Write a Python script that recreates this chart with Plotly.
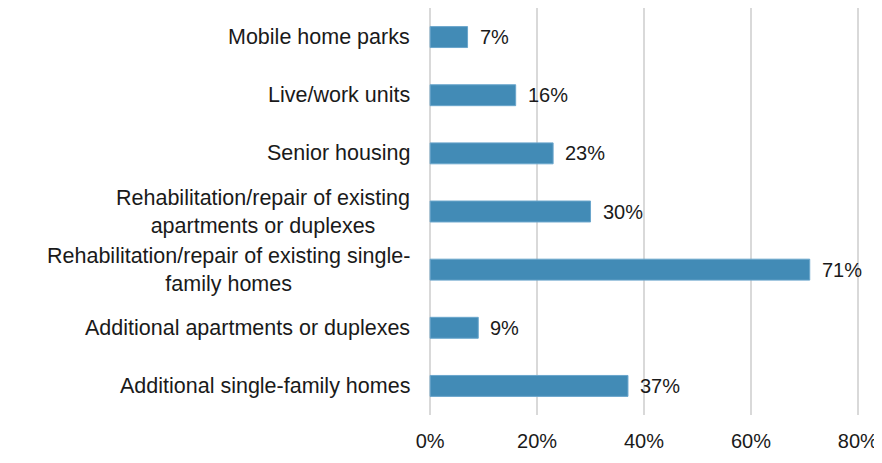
import plotly.graph_objects as go

categories = [
    "Additional single-family homes",
    "Additional apartments or duplexes",
    "Rehabilitation/repair of existing single-<br>family homes",
    "Rehabilitation/repair of existing<br>apartments or duplexes",
    "Senior housing",
    "Live/work units",
    "Mobile home parks",
]
values = [37, 9, 71, 30, 23, 16, 7]
x_ticks = [0, 20, 40, 60, 80]
x_tick_labels = ["0%", "20%", "40%", "60%", "80%"]

FONT = "Liberation Sans, Arial, sans-serif"
FS = 20
FS_CAT = 21.5
fig = go.Figure()
fig.add_trace(go.Bar(
    y=list(range(len(categories))),
    x=values,
    orientation="h",
    marker=dict(color="#428bb6", line=dict(color="#6aa6cc", width=1)),
    width=0.36,
    hoverinfo="skip",
))

for i, (c, v) in enumerate(zip(categories, values)):
    fig.add_annotation(x=v, y=i, xref="x", yref="y", text=f"{v}%",
                       showarrow=False, xanchor="left", xshift=10,
                       font=dict(size=FS, color="#1a1a1a", family=FONT))
    fig.add_annotation(x=0, y=i, xref="paper", yref="y", text=c,
                       showarrow=False, xanchor="right", xshift=-16,
                       align="center",
                       font=dict(size=FS_CAT, color="#1a1a1a", family=FONT))

# page body has an 8px margin; figure sized to fit the 882x463 window
fig.update_layout(
    width=874, height=455,
    margin=dict(l=420, r=22, t=0, b=48),
    plot_bgcolor="white", paper_bgcolor="white",
    showlegend=False,
    font=dict(family=FONT, size=FS, color="#1a1a1a"),
    xaxis=dict(range=[-0.4, 80.4], tickvals=x_ticks, ticktext=x_tick_labels,
               showgrid=True, gridcolor="#d9d9d9", gridwidth=2,
               zeroline=False, showline=False,
               ticks="outside", ticklen=8, tickcolor="rgba(0,0,0,0)",
               tickfont=dict(size=FS, color="#1a1a1a", family=FONT)),
    yaxis=dict(range=[-0.5, 6.5], showticklabels=False, showgrid=False,
               zeroline=False, showline=False),
)
fig.write_html("out.html")
